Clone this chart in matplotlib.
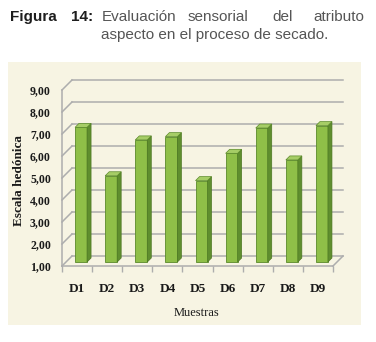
import matplotlib
matplotlib.use('Agg')
import matplotlib.pyplot as plt
from matplotlib.patches import Polygon, Rectangle
import numpy as np

# Evaluación sensorial del atributo aspecto (escala hedónica)
muestras = ['D1', 'D2', 'D3', 'D4', 'D5', 'D6', 'D7', 'D8', 'D9']
aspecto = [7.12, 4.92, 6.55, 6.70, 4.70, 5.94, 7.09, 5.64, 7.20]
y_ticks = [1, 2, 3, 4, 5, 6, 7, 8, 9]
y_tick_labels = ['1,00', '2,00', '3,00', '4,00', '5,00', '6,00', '7,00', '8,00', '9,00']

W, H = 376, 342
fig = plt.figure(figsize=(W / 100, H / 100), dpi=100)
fig.patch.set_facecolor('white')

# fondo del área del gráfico
fig.patches.append(Rectangle((8 / W, 1 - 325 / H), 353 / W, 263 / H,
                             transform=fig.transFigure, facecolor='#f7f4e3',
                             edgecolor='none', zorder=-5))

# título: primera línea justificada palabra por palabra
tit_1 = [('Figura', 10, 'bold', '#1e1e1e'), ('14:', 71, 'bold', '#1e1e1e'),
         ('Evaluación', 102, 'normal', '#555555'), ('sensorial', 188, 'normal', '#555555'),
         ('del', 272, 'normal', '#555555'), ('atributo', 313, 'normal', '#555555')]
for txt, x0, fw, col in tit_1:
    fig.text(x0 / W, 1 - 21 / H, txt, fontsize=11, fontweight=fw, color=col,
             family='Liberation Sans', va='baseline', ha='left')
fig.text(101 / W, 1 - 39 / H, 'aspecto en el proceso de secado.', fontsize=11,
         color='#555555', family='Liberation Sans', va='baseline', ha='left')

# ejes: plano frontal
x0_px, x1_px, yb_px, yt_px = 62, 333, 266, 90
ax = fig.add_axes([x0_px / W, 1 - yb_px / H, (x1_px - x0_px) / W, (yb_px - yt_px) / H])
ax.set_xlim(-0.5, 8.5)
ax.set_ylim(1, 9)
ax.patch.set_visible(False)
for s in ax.spines.values():
    s.set_visible(False)

dx = 9 / (x1_px - x0_px)      # unidades por pixel en x
dy = 8 / (yb_px - yt_px)      # unidades por pixel en y
prof = 10                     # profundidad del efecto 3D (px)
gris = '#adadad'

# pared del fondo y pared izquierda
for v in y_ticks:
    ax.plot([-0.5 + prof * dx, 8.5 + prof * dx], [v + prof * dy, v + prof * dy],
            color=gris, lw=1.1, clip_on=False, zorder=1)
    ax.plot([-0.5, -0.5 + prof * dx], [v, v + prof * dy],
            color=gris, lw=1.1, clip_on=False, zorder=1)
# piso
ax.plot([-0.5, 8.5], [1, 1], color=gris, lw=1.1, clip_on=False, zorder=1)
ax.plot([8.5, 8.5 + prof * dx], [1, 1 + prof * dy], color=gris, lw=1.1,
        clip_on=False, zorder=1)
ax.plot([-0.5, -0.5], [1, 9], color=gris, lw=1.1, clip_on=False, zorder=1)

# barras 3D
x = np.arange(len(muestras))
v = np.array(aspecto)
ancho = 12 * dx
d1, d2 = 4, 8
ax.bar(x + d1 * dx, v - 1, bottom=1 + d1 * dy, width=ancho, color='#8fbf48',
       edgecolor='#5b8a2a', linewidth=0.6, zorder=3, clip_on=False)
for xi, vi in zip(x, v):
    xl = xi - ancho / 2
    xr = xi + ancho / 2
    lado = [(xr + d1 * dx, 1 + d1 * dy), (xr + d2 * dx, 1 + d2 * dy),
            (xr + d2 * dx, vi + d2 * dy), (xr + d1 * dx, vi + d1 * dy)]
    tapa = [(xl + d1 * dx, vi + d1 * dy), (xr + d1 * dx, vi + d1 * dy),
            (xr + d2 * dx, vi + d2 * dy), (xl + d2 * dx, vi + d2 * dy)]
    ax.add_patch(Polygon(lado, closed=True, facecolor='#5f8e2e', edgecolor='#4c7722',
                         lw=0.5, zorder=3, clip_on=False))
    ax.add_patch(Polygon(tapa, closed=True, facecolor='#a6cd66', edgecolor='#5b8a2a',
                         lw=0.5, zorder=4, clip_on=False))

# marcas y etiquetas
ax.set_xticks(x)
ax.set_xticklabels(muestras, family='Liberation Serif', fontsize=9.5, fontweight='bold',
                   color='#1a1a1a')
ax.set_xticks(np.arange(-0.5, 9, 1), minor=True)
ax.tick_params(axis='x', which='major', length=0, pad=12.5)
ax.tick_params(axis='x', which='minor', length=4, color=gris, width=1)
ax.set_yticks(y_ticks)
ax.set_yticklabels(y_tick_labels, family='Liberation Serif', fontsize=8.5,
                   fontweight='bold', color='#1a1a1a')
ax.tick_params(axis='y', length=0, pad=8)

fig.text(19 / W, 1 - 180 / H, 'Escala hedónica', rotation=90, fontsize=9.5,
         fontweight='bold', family='Liberation Serif', color='#1a1a1a',
         ha='center', va='center')
fig.text(197 / W, 1 - 313 / H, 'Muestras', fontsize=9, family='Liberation Serif',
         color='#1a1a1a', ha='center', va='center')

fig.savefig('out.png', dpi=100)
